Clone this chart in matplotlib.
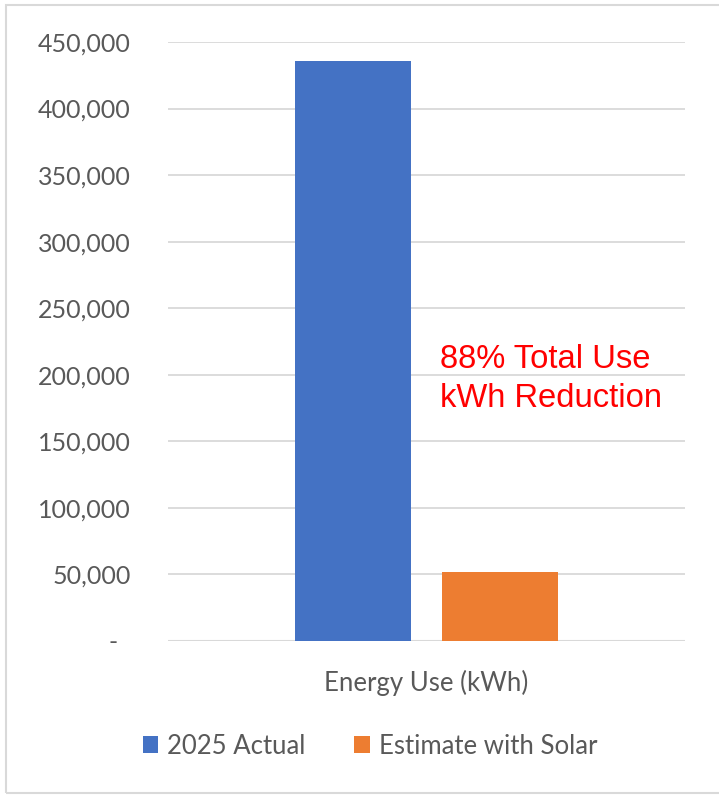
import matplotlib
matplotlib.use("Agg")
import matplotlib.pyplot as plt
from matplotlib.patches import Rectangle
from matplotlib.ticker import FuncFormatter

# data
categories = ["Energy Use (kWh)"]
series_names = ["2025 Actual", "Estimate with Solar"]
series_values = [436000, 51500]
series_colors = ["#4472C4", "#ED7D31"]
y_ticks = [0, 50000, 100000, 150000, 200000, 250000, 300000, 350000, 400000, 450000]
note = "88% Total Use\nkWh Reduction"

W, H = 719, 795
plt.rcParams['font.family'] = ['Lato', 'DejaVu Sans']
GREY = "#595959"

fig = plt.figure(figsize=(W / 100, H / 100), dpi=100)
ax = fig.add_axes([168 / W, 1 - 641 / H, (685 - 168) / W, (641 - 42) / H])

bar_w = 0.225
offsets = [-0.1425, 0.1425]
for name, val, col, off in zip(series_names, series_values, series_colors, offsets):
    ax.bar(off, val, width=bar_w, color=col, label=name, zorder=3)

ax.set_xlim(-0.5, 0.5)
ax.set_ylim(0, 450000)
ax.set_yticks(y_ticks)
ax.yaxis.set_major_formatter(FuncFormatter(lambda v, p: "-  " if v == 0 else f"{int(v):,}"))
ax.set_xticks([0])
ax.set_xticklabels(categories)
ax.tick_params(axis='y', length=0, pad=27, labelsize=18, labelcolor=GREY)
ax.tick_params(axis='x', length=0, pad=21, labelsize=18.5, labelcolor=GREY)
ax.grid(axis='y', color="#D9D9D9", linewidth=1.3, zorder=0)
ax.set_axisbelow(True)
for s in ax.spines.values():
    s.set_visible(False)
ax.axhline(0, color="#D9D9D9", linewidth=1.5, zorder=1)

# red annotation, left aligned with the orange bar
ax.text(offsets[1] - bar_w / 2 - 0.003, 197000, note, color="red", fontsize=23.6,
        family="Liberation Sans", va="center", ha="left", linespacing=1.32)

fig.legend(loc="center", bbox_to_anchor=(370 / W, 1 - 746 / H), ncol=2, frameon=False,
           fontsize=18.5, labelcolor=GREY, handlelength=0.6, handleheight=0.6,
           handletextpad=0.35, columnspacing=1.9)

# light border round the chart area
fig.patches.append(Rectangle((6 / W, 1 - 793 / H), (W + 10 - 6) / W, (793 - 5) / H,
                             transform=fig.transFigure, fill=False,
                             edgecolor="#D9D9D9", linewidth=1.5))

fig.savefig("out.png", dpi=100)
